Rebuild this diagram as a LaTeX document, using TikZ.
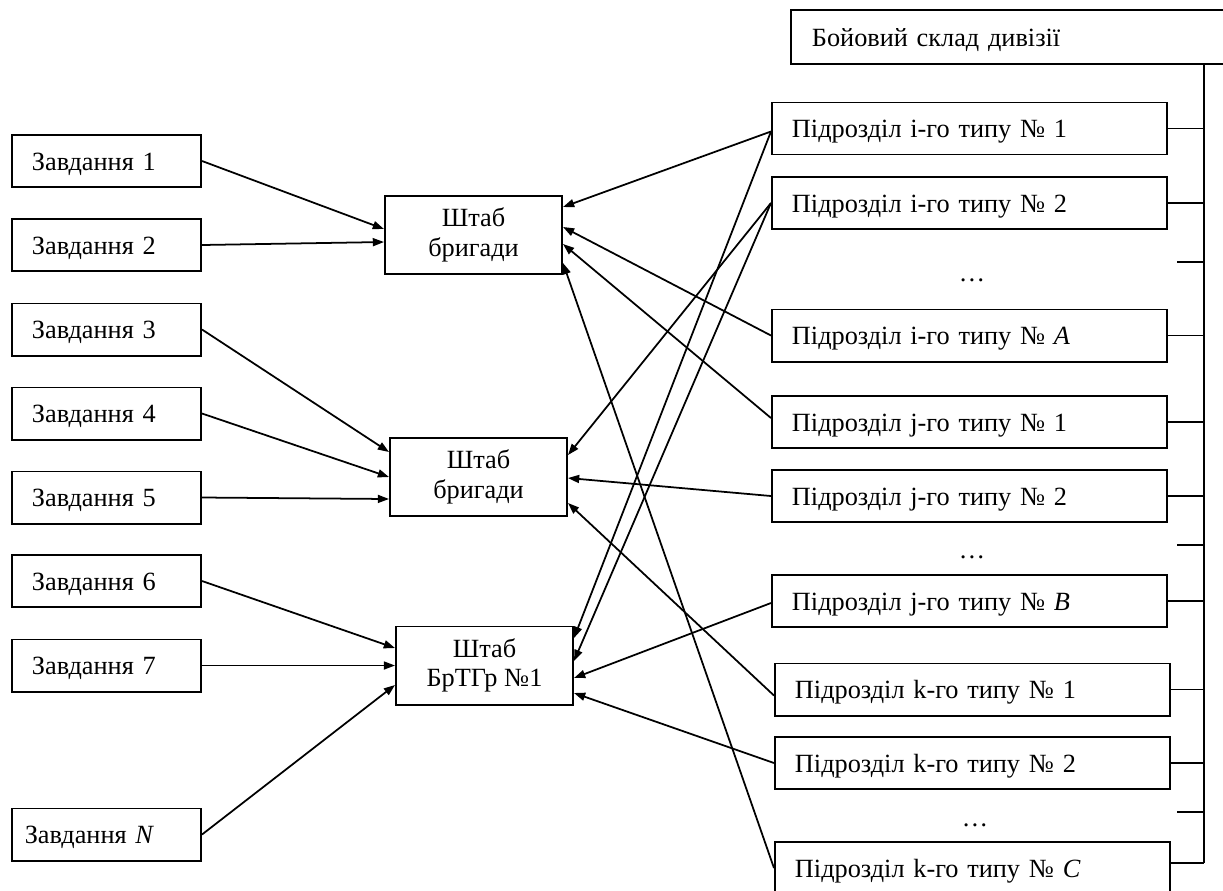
\documentclass[tikz,border=0pt]{standalone}
\usepackage{fontspec}
\setmainfont{Liberation Serif}
\usetikzlibrary{positioning,calc,arrows.meta}
\newcommand{\boxstrut}{\rule[-0.2em]{0pt}{1.1em}}

\begin{document}
\begin{tikzpicture}[x=0.025cm,y=-0.025cm,
	font=\fontsize{18.7}{21}\selectfont,
	task/.style={draw,line width=1.4pt,text width=3.725cm,inner xsep=0.5cm,minimum height=1.3cm,align=left,execute at begin node=\boxstrut},
	unit/.style={draw,line width=1.4pt,text width=8.875cm,inner xsep=0.5cm,minimum height=1.3cm,align=left,execute at begin node=\boxstrut},
	hq/.style={draw,line width=1.4pt,minimum width=4.425cm,minimum height=1.95cm,align=center,execute at begin node=\rule{0pt}{1em}},
	arr/.style={line width=1.25pt,-{Triangle[length=0.28cm,width=0.2cm]}}]

		\useasboundingbox (0,0) rectangle (1223,890);

		% tasks
		\node[task] (t1) at (106.5,161) {Завдання 1};
		\node[task] (t2) at (106.5,245) {Завдання 2};
		\node[task] (t3) at (106.5,329.5) {Завдання 3};
		\node[task] (t4) at (106.5,413.5) {Завдання 4};
		\node[task] (t5) at (106.5,497.5) {Завдання 5};
		\node[task] (t6) at (106.5,581) {Завдання 6};
		\node[task] (t7) at (106.5,665.5) {Завдання 7};
		\node[task] (tN) at (106.5,834.5) {\hspace*{-0.18cm}Завдання \textit{N}};

		% headquarters
		\node[hq] (hq1) at (473.5,235) {Штаб\\бригади};
		\node[hq] (hq2) at (478.5,477) {Штаб\\бригади};
		\node[hq] (hq3) at (484.5,665.5) {Штаб\\БрТГр №1};

		% division
		\node[draw,line width=1.4pt,text width=10.05cm,inner xsep=0.525cm,minimum height=1.35cm,align=left,execute at begin node=\boxstrut] (div) at (1013,37) {Бойовий склад дивізії};

		\node[unit] (i1) at (969.5,128.5) {Підрозділ і-го типу № 1};
		\node[unit] (i2) at (969.5,203) {Підрозділ і-го типу № 2};
		\node[unit] (iA) at (969.5,335.5) {Підрозділ і-го типу № \textit{A}};
		\node[unit] (j1) at (969.5,422) {Підрозділ j-го типу № 1};
		\node[unit] (j2) at (969.5,496) {Підрозділ j-го типу № 2};
		\node[unit] (jB) at (969.5,601) {Підрозділ j-го типу № \textit{B}};
		\node[unit] (k1) at (972.5,689.5) {Підрозділ k-го типу № 1};
		\node[unit] (k2) at (972.5,763) {Підрозділ k-го типу № 2};
		\node[unit] (kC) at (972.5,868) {Підрозділ k-го типу № \textit{C}};

		\node[anchor=base] (dots1) at (972,281) {…};
		\node[anchor=base] (dots2) at (972,558) {…};
		\node[anchor=base] (dots3) at (975,826) {…};

		% bus on the right
		\coordinate (bus) at (1204,64);
		\draw[line width=1.4pt] (bus) -- ($(kC.east -| bus)+(0,-5)$);
		\foreach \u in {i1,i2,iA,j1,j2,jB,k1,k2}
			\draw[line width=1.4pt] (\u.east) -- (\u.east -| bus);
		\draw[line width=1.4pt] ($(kC.east)+(0,-5)$) -- ($(kC.east -| bus)+(0,-5)$);
		\foreach \n/\y in {1/262,2/545,3/812}{
			\coordinate (stub\n) at (1177,\y);
			\draw[line width=1.4pt] (stub\n) -- (stub\n -| bus);
		}

		% tasks -> headquarters
		\draw[arr] (t1.east) -- ($(hq1.west)+(0,-6)$);
		\draw[arr] (t2.east) -- ($(hq1.west)+(0,7)$);
		\draw[arr] (t3.east) -- ($(hq2.west)+(0,-25)$);
		\draw[arr] (t4.east) -- (hq2.west);
		\draw[arr] (t5.east) -- ($(hq2.west)+(0,22)$);
		\draw[arr] (t6.east) -- ($(hq3.west)+(0,-17.5)$);
		\draw[arr] (t7.east) -- (hq3.west);
		\draw[arr] (tN.east) -- ($(hq3.west)+(0,19.5)$);

		% units -> headquarters
		\draw[arr] ($(i1.west)+(0,3)$) -- ($(hq1.east)+(0,-28)$);
		\draw[arr] (iA.west) -- ($(hq1.east)+(0,-8)$);
		\draw[arr] ($(j1.west)+(0,-4)$) -- ($(hq1.east)+(0,9)$);
		\draw[arr] (kC.west) -- ($(hq1.east)+(0,28)$);

		\draw[arr] (i2.west) -- ($(hq2.east)+(0,-22)$);
		\draw[arr] (j2.west) -- ($(hq2.east)+(0,1)$);
		\draw[arr] ($(k1.west)+(0,6)$) -- ($(hq2.east)+(0,26)$);

		\draw[arr] ($(i1.west)+(0,3)$) -- ($(hq3.east)+(0,-27.5)$);
		\draw[arr] (i2.west) -- ($(hq3.east)+(0,-4.5)$);
		\draw[arr] ($(jB.west)+(0,2)$) -- ($(hq3.east)+(0,12.5)$);
		\draw[arr] (k2.west) -- ($(hq3.east)+(0,27.5)$);

\end{tikzpicture}
\end{document}
